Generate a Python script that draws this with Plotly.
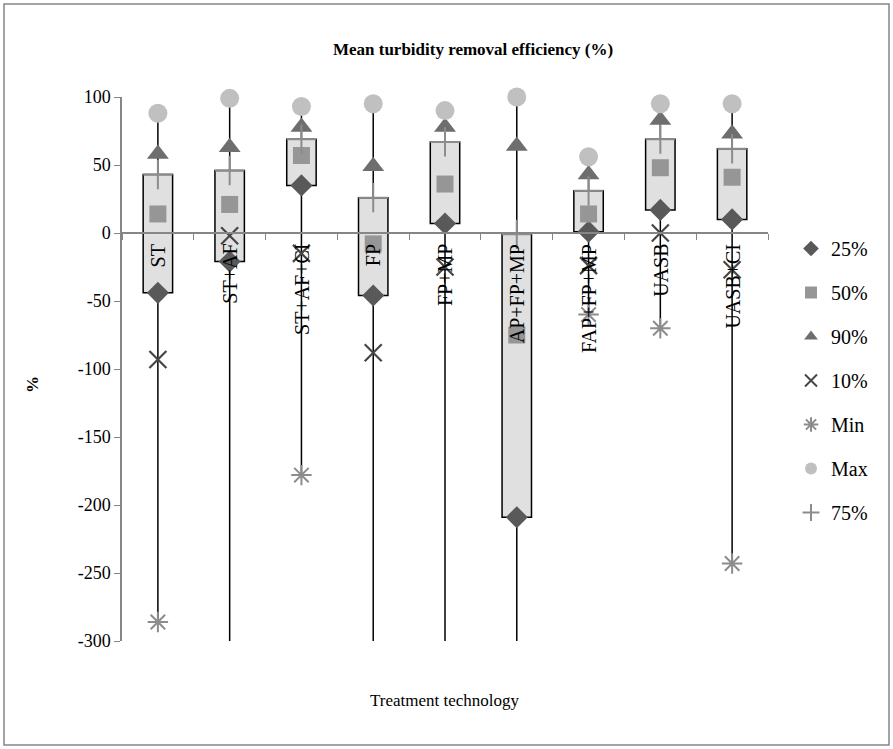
import plotly.graph_objects as go

# treatment technologies and their removal efficiency percentiles (%)
categories = ["ST", "ST+AF", "ST+AF+CI", "FP", "FP+MP", "AP+FP+MP", "FAP+FP+MP", "UASB", "UASB+CI"]
p25 = [-44, -21, 35, -46, 7, -209, 1, 17, 10]
p50 = [14, 21, 57, -8, 36, -75, 14, 48, 41]
p90 = [58, 63, 78, 49, 78, 64, 43, 83, 73]
p10 = [-93, -2, -15, -88, -25, -320, -24, 0, -27]
# -350 / -320: below the axis floor, not visible in the picture
vmin = [-286, -350, -178, -350, -350, -350, -60, -70, -243]
vmax = [88, 99, 93, 95, 90, 100, 56, 95, 95]
p75 = [43, 46, 69, 26, 67, -1, 31, 69, 62]

y_ticks = [100, 50, 0, -50, -100, -150, -200, -250, -300]
y_labels = ["100", "50", "0", "-50", "-100", "-150", "-200", "-250", "-300"]

W, H = 893, 749
L, R, T, B = 122, 768, 97, 641   # plot area in pixels
font = "Liberation Serif"
axis_grey = "#868686"

def px(x):
    return (x - L) / (R - L)

def py(y):
    return (B - y) / (B - T)

fig = go.Figure()

# up-down bars between 25% and 75%
fig.add_trace(go.Bar(x=categories,
                     y=[b - a for a, b in zip(p25, p75)],
                     base=p25,
                     width=0.41,
                     marker=dict(color="rgb(224,224,224)", line=dict(color="black", width=1.5)),
                     showlegend=False,
                     hoverinfo="skip"))

series = [
    ("25%", p25, dict(symbol="diamond", size=17, color="rgb(89,89,89)"), True),
    ("50%", p50, dict(symbol="square", size=17, color="rgb(150,150,150)"), True),
    ("90%", p90, dict(symbol="triangle-up", size=19, color="rgb(110,110,110)"), False),
    ("10%", p10, dict(symbol="x-thin", size=17, color="rgb(70,70,70)",
                      line=dict(color="rgb(70,70,70)", width=2.2)), True),
    ("Min", vmin, dict(symbol="asterisk", size=17, color="rgb(140,140,140)",
                       line=dict(color="rgb(140,140,140)", width=2)), True),
    ("Max", vmax, dict(symbol="circle", size=19, color="rgb(192,192,192)"), False),
    ("75%", p75, dict(symbol="cross-thin", size=21, color="rgb(140,140,140)",
                      line=dict(color="rgb(140,140,140)", width=2)), False),
]
for name, vals, mk, clip in series:
    fig.add_trace(go.Scatter(x=categories, y=vals, mode="markers", name=name,
                             marker=mk, cliponaxis=clip, legendgroup=name))

# high-low lines behind the boxes
for c, lo, hi in zip(categories, vmin, vmax):
    fig.add_shape(type="line", xref="x", yref="y", x0=c, x1=c, y0=lo, y1=hi,
                  line=dict(color="black", width=1.5), layer="below")

# rotated category labels just under the zero line
for c in categories:
    fig.add_annotation(x=c, y=0, xref="x", yref="y", text=c, textangle=-90,
                       showarrow=False, yanchor="top", xanchor="center", yshift=-9,
                       font=dict(family=font, size=20, color="black"))

fig.add_annotation(x=0.5, y=py(700), xref="paper", yref="paper", text="Treatment technology",
                   showarrow=False, xanchor="center", yanchor="middle",
                   font=dict(family=font, size=17, color="black"))
fig.add_annotation(x=px(32), y=py(385), xref="paper", yref="paper", text="<b>%</b>",
                   textangle=-90, showarrow=False, xanchor="center", yanchor="middle",
                   font=dict(family=font, size=17, color="black"))

# chart area border
fig.add_shape(type="rect", xref="paper", yref="paper",
              x0=px(4), x1=px(889), y0=py(745), y1=py(4),
              line=dict(color=axis_grey, width=1.5))

fig.update_layout(
    width=W, height=H,
    margin=dict(l=L, r=W - R, t=T, b=H - B),
    paper_bgcolor="white", plot_bgcolor="white",
    font=dict(family=font, color="black"),
    barmode="overlay",
    title=dict(text="<b>Mean turbidity removal efficiency (%)</b>", xref="container", x=473 / W,
               xanchor="center", y=1 - 49 / H, yanchor="middle",
               font=dict(family=font, size=17, color="black")),
    xaxis=dict(type="category", range=[-0.5, 8.5], anchor="free", position=0.75,
               showline=True, linecolor=axis_grey, linewidth=1.5,
               ticks="outside", tickson="boundaries", ticklen=6, tickcolor=axis_grey,
               showticklabels=False, showgrid=False, zeroline=False),
    yaxis=dict(range=[-300, 100], tickvals=y_ticks, ticktext=y_labels,
               showline=True, linecolor=axis_grey, linewidth=1.5,
               ticks="outside", ticklen=6, tickcolor=axis_grey, showgrid=False, zeroline=False,
               tickfont=dict(family=font, size=18, color="black")),
    legend=dict(x=px(791), y=py(229), xanchor="left", yanchor="top",
                font=dict(family=font, size=20, color="black"),
                tracegroupgap=15, itemwidth=30, itemsizing="constant",
                bgcolor="rgba(0,0,0,0)"),
)

fig.write_html("out.html", config={"displayModeBar": False},
               post_script="document.body.style.margin='0';")
